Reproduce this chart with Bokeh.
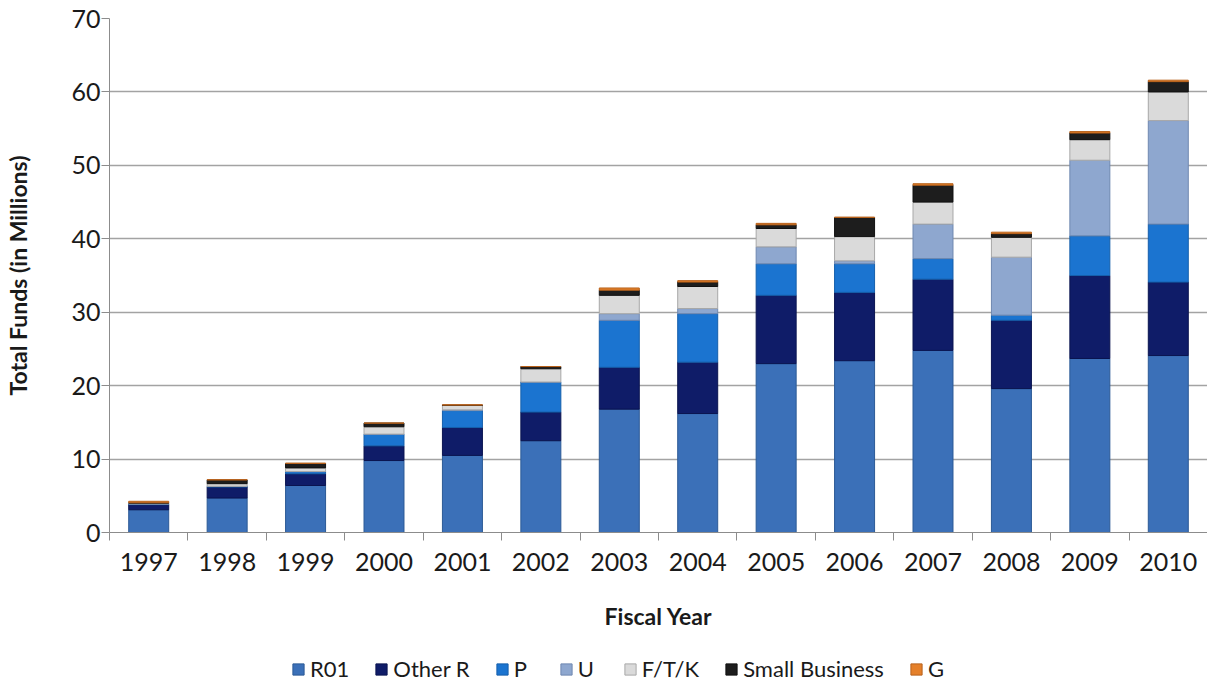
from bokeh.plotting import figure
from bokeh.layouts import column
from bokeh.models import ColumnDataSource, FixedTicker, Legend, LegendItem, Range1d
from bokeh.embed import file_html
from bokeh.resources import INLINE

years = [1997, 1998, 1999, 2000, 2001, 2002, 2003, 2004, 2005, 2006, 2007, 2008, 2009, 2010]
r01 = [3.1, 4.7, 6.4, 9.8, 10.5, 12.5, 16.8, 16.2, 23.0, 23.4, 24.8, 19.6, 23.7, 24.1]
other_r = [0.7, 1.5, 1.6, 2.0, 3.8, 3.9, 5.7, 7.0, 9.3, 9.3, 9.7, 9.3, 11.3, 10.0]
p_grants = [0.1, 0.1, 0.3, 1.6, 2.3, 4.1, 6.4, 6.6, 4.3, 3.9, 2.8, 0.7, 5.4, 7.9]
u_grants = [0.0, 0.0, 0.0, 0.0, 0.1, 0.0, 0.9, 0.7, 2.3, 0.4, 4.7, 7.9, 10.3, 14.1]
ftk = [0.1, 0.35, 0.5, 1.0, 0.6, 1.8, 2.5, 3.0, 2.5, 3.3, 3.0, 2.7, 2.8, 3.9]
small_business = [0.05, 0.5, 0.6, 0.5, 0.05, 0.3, 0.7, 0.6, 0.5, 2.6, 2.3, 0.5, 0.9, 1.4]
g_grants = [0.2, 0.05, 0.05, 0.0, 0.05, 0.0, 0.3, 0.2, 0.2, 0.05, 0.2, 0.2, 0.2, 0.2]

series_keys = ["r01", "other_r", "p", "u", "ftk", "sb", "g"]
series_labels = ["R01", "Other R", "P", "U", "F/T/K", "Small Business", "G"]
fill_colors = ["#3b70b8", "#0f1c68", "#1b74d0", "#8ea7cf", "#dadada", "#1d1d1d", "#e5802a"]
line_colors = ["#2c5a96", "#0a1450", "#155fab", "#6f88b0", "#a8a8a8", "#111111", "#b8621c"]

source = ColumnDataSource(data=dict(
    year=years, r01=r01, other_r=other_r, p=p_grants, u=u_grants,
    ftk=ftk, sb=small_business, g=g_grants,
))

FONT = "Lato"
W = 1207

p = figure(width=W, height=655, output_backend="svg", toolbar_location=None,
           x_range=Range1d(years[0] - 0.5, years[-1] + 0.5), y_range=Range1d(0, 70),
           min_border_left=109, min_border_top=18, min_border_right=0, min_border_bottom=123)
p.outline_line_color = None

renderers = p.vbar_stack(series_keys, x="year", width=0.51, source=source,
                         fill_color=fill_colors, line_color=line_colors, line_width=1)

p.xgrid.grid_line_color = None
p.ygrid.grid_line_color = "#a3a3a3"
p.ygrid.grid_line_width = 1.5

p.yaxis.ticker = FixedTicker(ticks=list(range(0, 71, 10)))
p.yaxis.major_tick_out = 8
p.yaxis.major_tick_in = 0
p.yaxis.minor_tick_line_color = None
p.yaxis.axis_line_color = "#8c8c8c"
p.yaxis.major_tick_line_color = "#8c8c8c"
p.yaxis.major_label_standoff = 1
p.yaxis.major_label_text_font = FONT
p.yaxis.major_label_text_font_size = "25px"
p.yaxis.major_label_text_color = "#1a1a1a"
p.yaxis.axis_label = "Total Funds (in Millions)"
p.yaxis.axis_label_text_font = FONT
p.yaxis.axis_label_text_font_style = "bold"
p.yaxis.axis_label_text_font_size = "23px"
p.yaxis.axis_label_text_color = "#1a1a1a"
p.yaxis.axis_label_standoff = 36

p.xaxis.ticker = FixedTicker(ticks=years,
                             minor_ticks=[y - 0.5 for y in years] + [years[-1] + 0.5])
p.xaxis.major_tick_out = 0
p.xaxis.major_tick_in = 0
p.xaxis.minor_tick_out = 8
p.xaxis.minor_tick_in = 0
p.xaxis.minor_tick_line_color = "#8c8c8c"
p.xaxis.axis_line_color = "#8c8c8c"
p.xaxis.major_label_standoff = 12
p.xaxis.major_label_text_font = FONT
p.xaxis.major_label_text_font_size = "25px"
p.xaxis.major_label_text_color = "#1a1a1a"
p.xaxis.axis_label = "Fiscal Year"
p.xaxis.axis_label_text_font = FONT
p.xaxis.axis_label_text_font_style = "bold"
p.xaxis.axis_label_text_font_size = "23px"
p.xaxis.axis_label_text_color = "#1a1a1a"
p.xaxis.axis_label_standoff = 28

# Legend strip: a second figure whose (out-of-view) stacked bars carry the legend entries
lp = figure(width=W, height=30, output_backend="svg", toolbar_location=None,
            x_range=Range1d(0, 1), y_range=Range1d(0, 1),
            x_axis_location=None, y_axis_location=None,
            min_border_left=0, min_border_right=0, min_border_top=0, min_border_bottom=0)
lp.outline_line_color = None
lp.xgrid.visible = False
lp.ygrid.visible = False
legend_renderers = lp.vbar_stack(series_keys, x="year", width=0.51, source=source,
                                 fill_color=fill_colors, line_color=line_colors, line_width=1)

legend = Legend(items=[LegendItem(label=lab, renderers=[r]) for lab, r in zip(series_labels, legend_renderers)],
                orientation="horizontal", location=(182, 3),
                label_text_font=FONT, label_text_font_size="22px", label_text_color="#1a1a1a",
                glyph_width=14, glyph_height=14, label_standoff=5, spacing=25,
                border_line_color=None, background_fill_alpha=0, margin=0, padding=0)
lp.add_layout(legend, "center")

layout = column(p, lp, spacing=0)
open("out.html", "w").write(file_html(layout, INLINE))
